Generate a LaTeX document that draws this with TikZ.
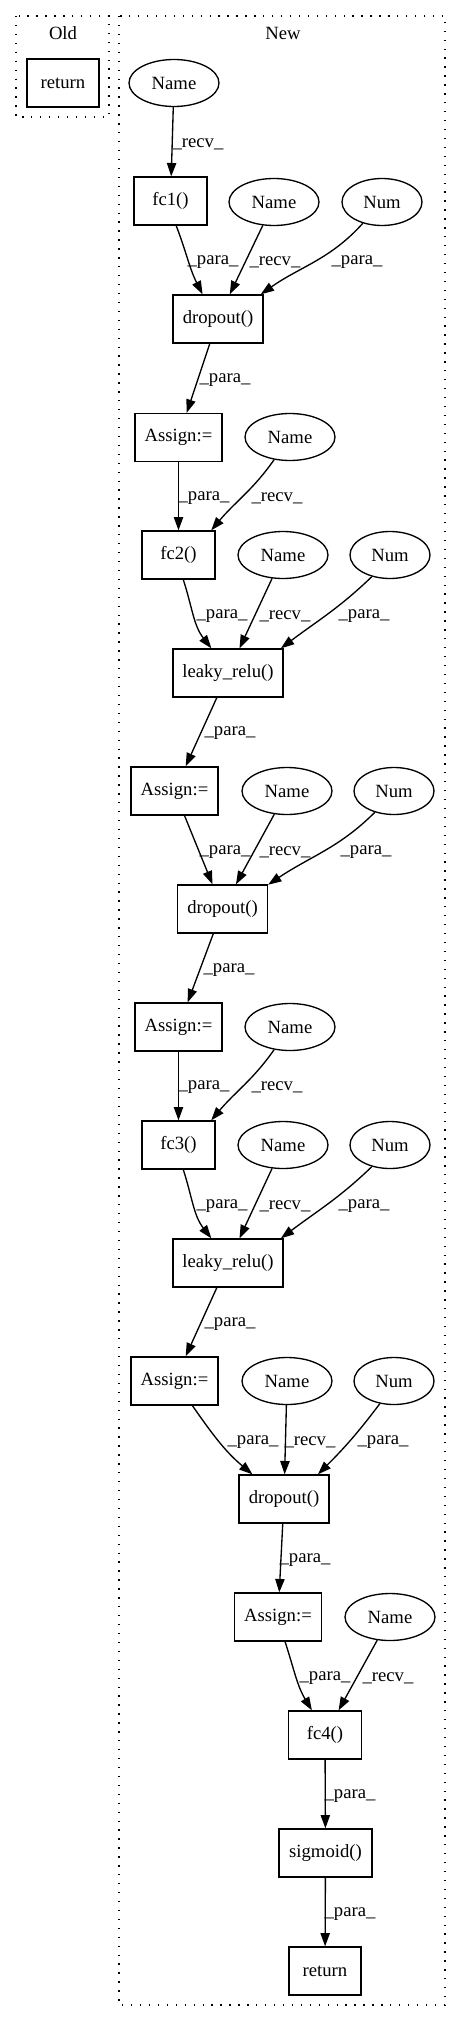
\documentclass[tikz,border=0pt]{standalone}
\usepackage{fontspec}
\setmainfont{Liberation Serif}
\usetikzlibrary{arrows.meta,shapes.geometric}
\begin{document}
\begin{tikzpicture}[x=0.75pt,y=-0.75pt,
  every node/.style={font=\fontsize{14pt}{16pt}\selectfont},
  box/.style={draw,line width=1pt,rectangle,inner sep=0pt,minimum height=36pt},
  fcbox/.style={box,minimum width=54.75pt},
  dbox/.style={box,minimum width=67.5pt},
  abox/.style={box,minimum width=65.25pt},
  lbox/.style={box,minimum width=82.5pt},
  ell/.style={draw,line width=1pt,ellipse,inner sep=0pt,minimum height=35.25pt,minimum width=67.5pt},
  numell/.style={ell,minimum width=60pt},
  conn/.style={line width=1pt,-{Triangle[length=10pt,width=7pt]}},
  lbl/.style={inner sep=0pt},
  clus/.style={line width=1pt,dash pattern=on 1pt off 5.7pt}
]
\useasboundingbox (0,0) rectangle (461,2022);
% clusters
\draw[clus] (16,16) rectangle (109,117);
\draw[clus] (119,16) rectangle (445,2005);
\node (oldl) at (63,33) {Old};
\node (newl) at (283,33) {New};
\node[box,minimum width=54pt] (oret) at (63,83) {return};
% nodes
\node[ell] (n1) at (174,83) {Name};
\node[fcbox] (fc1) at (170.5,201) {fc1()};
\node[ell] (n2) at (274,202) {Name};
\node[numell] (num1) at (382,202) {Num};
\node[dbox] (d1) at (218,319) {dropout()};
\node[abox] (a1) at (178.5,437.5) {Assign:=};
\node[ell] (n3) at (290,437) {Name};
\node[fcbox] (fc2) at (178.5,555) {fc2()};
\node[ell] (n4) at (283,555) {Name};
\node[numell] (num2) at (390,555) {Num};
\node[lbox] (lr1) at (228,673) {leaky\_relu()};
\node[abox] (a2) at (174.5,791) {Assign:=};
\node[ell] (n5) at (287,791) {Name};
\node[numell] (num3) at (394,791) {Num};
\node[dbox] (d2) at (222.5,909) {dropout()};
\node[abox] (a3) at (178.5,1027) {Assign:=};
\node[ell] (n6) at (290,1027) {Name};
\node[fcbox] (fc3) at (178.5,1145) {fc3()};
\node[ell] (n7) at (283,1145) {Name};
\node[numell] (num4) at (390,1145) {Num};
\node[lbox] (lr2) at (228,1263) {leaky\_relu()};
\node[abox] (a4) at (174.5,1381) {Assign:=};
\node[ell] (n8) at (287,1381) {Name};
\node[numell] (num5) at (394,1381) {Num};
\node[dbox] (d3) at (284,1499) {dropout()};
\node[abox] (a5) at (278,1617) {Assign:=};
\node[ell] (n9) at (390,1617) {Name};
\node[fcbox] (fc4) at (325,1735) {fc4()};
\node[box,minimum width=69.75pt] (sig) at (325.5,1853) {sigmoid()};
\node[box,minimum width=54pt] (ret) at (325,1971) {return};
% edges
\draw[conn] (n1) -- (fc1);
\draw[conn] (fc1.-77) to[out=-69,in=117] (d1.122);
\draw[conn] (n2) -- (d1);
\draw[conn] (num1.-132) to[out=-132,in=35] (d1.30);
\draw[conn] (d1) -- (a1);
\draw[conn] (a1) -- (fc2);
\draw[conn] (n3.-125) to[out=-125,in=50] (fc2.37);
\draw[conn] (fc2.-79) to[out=-72,in=128] (lr1.124);
\draw[conn] (n4) -- (lr1);
\draw[conn] (num2.-130) to[out=-136,in=37] (lr1.25);
\draw[conn] (lr1) -- (a2);
\draw[conn] (a2) -- (d2);
\draw[conn] (n5) -- (d2);
\draw[conn] (num3.-132) to[out=-135,in=34] (d2.28);
\draw[conn] (d2) -- (a3);
\draw[conn] (a3) -- (fc3);
\draw[conn] (n6.-125) to[out=-125,in=50] (fc3.37);
\draw[conn] (fc3.-79) to[out=-72,in=128] (lr2.124);
\draw[conn] (n7) -- (lr2);
\draw[conn] (num4.-130) to[out=-136,in=37] (lr2.25);
\draw[conn] (lr2) -- (a4);
\draw[conn] (a4.-54) to[out=-55,in=140] (d3.142);
\draw[conn] (n8) -- (d3);
\draw[conn] (num5.-122) to[out=-127,in=45] (d3.36);
\draw[conn] (d3) -- (a5);
\draw[conn] (a5.-74) to[out=-72,in=121] (fc4.118);
\draw[conn] (n9) -- (fc4);
\draw[conn] (fc4) -- (sig);
\draw[conn] (sig) -- (ret);
% edge labels
\node[lbl] (l1) at (198,144) {\_recv\_};
\node[lbl] (l2) at (213,262) {\_para\_};
\node[lbl] (l3) at (275,262) {\_recv\_};
\node[lbl] (l4) at (357,262) {\_para\_};
\node[lbl] (l5) at (225,380) {\_para\_};
\node[lbl] (l6) at (204,498) {\_para\_};
\node[lbl] (l7) at (277,498) {\_recv\_};
\node[lbl] (l8) at (222,616) {\_para\_};
\node[lbl] (l9) at (285,616) {\_recv\_};
\node[lbl] (l10) at (364,616) {\_para\_};
\node[lbl] (l11) at (230,733) {\_para\_};
\node[lbl] (l12) at (225,852) {\_para\_};
\node[lbl] (l13) at (285,852) {\_recv\_};
\node[lbl] (l14) at (366,852) {\_para\_};
\node[lbl] (l15) at (229,970) {\_para\_};
\node[lbl] (l16) at (204,1087) {\_para\_};
\node[lbl] (l17) at (277,1087) {\_recv\_};
\node[lbl] (l18) at (222,1206) {\_para\_};
\node[lbl] (l19) at (285,1206) {\_recv\_};
\node[lbl] (l20) at (364,1206) {\_para\_};
\node[lbl] (l21) at (230,1324) {\_para\_};
\node[lbl] (l22) at (253,1442) {\_para\_};
\node[lbl] (l23) at (310,1442) {\_recv\_};
\node[lbl] (l24) at (383,1442) {\_para\_};
\node[lbl] (l25) at (305,1560) {\_para\_};
\node[lbl] (l26) at (325,1678) {\_para\_};
\node[lbl] (l27) at (388,1678) {\_recv\_};
\node[lbl] (l28) at (350,1796) {\_para\_};
\node[lbl] (l29) at (350,1914) {\_para\_};
\end{tikzpicture}
\end{document}
